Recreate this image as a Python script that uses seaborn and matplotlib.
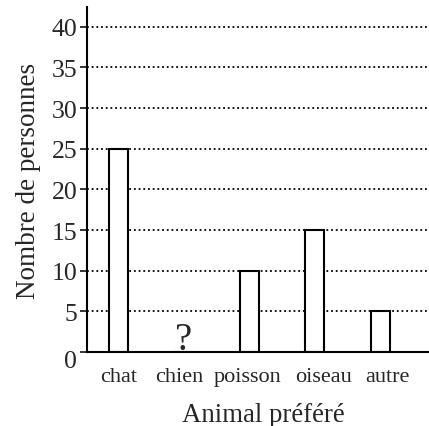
import pandas as pd
import matplotlib.pyplot as plt
import seaborn as sns
from matplotlib.transforms import ScaledTranslation

animaux = ["chat", "chien", "poisson", "oiseau", "autre"]
personnes = [25, 0, 10, 15, 5]
inconnu = "chien"

df = pd.DataFrame({"animal": animaux, "n": personnes})

sns.set_style("white")
plt.rcParams["font.family"] = ["Liberation Serif", "DejaVu Serif"]

fig = plt.figure(figsize=(4.29, 4.27), dpi=100)
ax = fig.add_axes([0.203, 0.173, 0.795, 0.808])

sns.barplot(data=df, x="animal", y="n", color="white", edgecolor="black",
            linewidth=1.5, width=0.29, saturation=1, ax=ax)

# la valeur pour "chien" est inconnue
ax.text(animaux.index(inconnu), 0.35, "?", ha="center", va="baseline", fontsize=28)

ax.set_axisbelow(True)
ax.yaxis.grid(True, linestyle=(0, (1, 1.6)), color="black", linewidth=1.3)
ax.set_ylim(0, 42.4)
ax.set_xlim(-0.473, 4.73)
ax.set_yticks(range(0, 41, 5))
ax.tick_params(axis="y", length=5, width=1.3, labelsize=18.5, pad=2, left=True)
ax.tick_params(axis="x", length=0, labelsize=16, pad=11)

def decale(lab, dx_px, dy_px):
    lab.set_transform(lab.get_transform() +
                      ScaledTranslation(dx_px / 100, dy_px / 100, fig.dpi_scale_trans))

# le zéro est un peu plus bas
decale(ax.get_yticklabels()[0], 0, -6)
# les noms ne sont pas tout à fait centrés sous les barres
for lab, dx in zip(ax.get_xticklabels(), [1, -4.5, -2, 9, 7]):
    decale(lab, dx, 0)

for s in ["top", "right"]:
    ax.spines[s].set_visible(False)
for s in ["left", "bottom"]:
    ax.spines[s].set_linewidth(1.5)
    ax.spines[s].set_color("black")

ax.set_xlabel("Animal préféré", fontsize=19.3, labelpad=11)
ax.xaxis.label.set_x(0.516)
ax.set_ylabel("Nombre de personnes", fontsize=19.5, labelpad=7.5)

fig.savefig("out.png", dpi=100)
